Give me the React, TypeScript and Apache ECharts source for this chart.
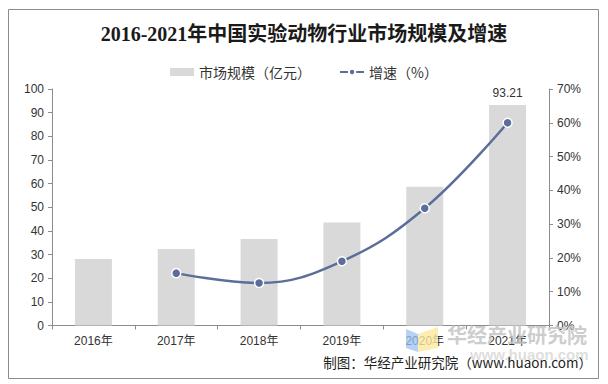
import React, { useEffect, useRef } from "react";
import * as echarts from "echarts";

const categories = ["2016年", "2017年", "2018年", "2019年", "2020年", "2021年"];
const marketSize = [28.1, 32.3, 36.6, 43.5, 58.7, 93.21];
const growth: (number | null)[] = [null, 15.5, 12.6, 19.0, 34.7, 60.0];
const leftTicks = { min: 0, max: 100, interval: 10 };
const rightTicks = { min: 0, max: 70, interval: 10 };

const FONT = '"Liberation Sans", Arial, "Noto Sans CJK SC", sans-serif';

export default function App() {
  const ref = useRef<HTMLDivElement>(null);
  useEffect(() => {
    if (!ref.current) return;
    const chart = echarts.init(ref.current, null, { renderer: "svg" });
    const lastIdx = marketSize.length - 1;
    chart.setOption({
      animation: false,
      backgroundColor: "#ffffff",
      title: {
        text: "2016-2021年中国实验动物行业市场规模及增速",
        left: "center",
        top: 19,
        textStyle: {
          fontFamily: '"Liberation Serif", "Noto Sans CJK SC", serif',
          fontSize: 20,
          fontWeight: "bold",
          color: "#1a1a1a",
        },
      },
      legend: {
        top: 60,
        left: "center",
        itemGap: 28,
        textStyle: { fontFamily: '"Noto Sans CJK SC", sans-serif', fontSize: 14, color: "#333" },
        data: [
          { name: "市场规模（亿元）", icon: "rect", itemStyle: { color: "#d9d9d9" } },
          { name: "增速（%）" },
        ],
        itemWidth: 24,
        itemHeight: 8,
      },
      grid: { left: 52, right: 59, top: 89, bottom: 58.5, containLabel: false },
      xAxis: {
        type: "category",
        data: categories,
        axisLine: { lineStyle: { color: "#8c8c8c" } },
        axisTick: { show: true, length: 4, lineStyle: { color: "#8c8c8c" } },
        axisLabel: { color: "#333", fontFamily: FONT, fontSize: 12, margin: 9 },
      },
      yAxis: [
        {
          type: "value",
          ...leftTicks,
          axisLine: { show: true, lineStyle: { color: "#8c8c8c" } },
          axisTick: { show: true, length: 4, lineStyle: { color: "#8c8c8c" } },
          splitLine: { show: false },
          axisLabel: { color: "#333", fontFamily: FONT, fontSize: 12, margin: 8 },
        },
        {
          type: "value",
          ...rightTicks,
          position: "right",
          axisLine: { show: true, lineStyle: { color: "#8c8c8c" } },
          axisTick: { show: true, length: 4, lineStyle: { color: "#8c8c8c" } },
          splitLine: { show: false },
          axisLabel: { color: "#333", fontFamily: FONT, fontSize: 12, margin: 8, formatter: "{value}%" },
        },
      ],
      series: [
        {
          name: "市场规模（亿元）",
          type: "bar",
          barWidth: 37,
          itemStyle: { color: "#d9d9d9" },
          data: marketSize.map((v, i) =>
            i === lastIdx
              ? {
                  value: v,
                  label: {
                    show: true,
                    position: "top",
                    distance: 6,
                    color: "#333",
                    fontFamily: FONT,
                    fontSize: 12,
                  },
                }
              : v
          ),
        },
        {
          name: "增速（%）",
          type: "line",
          yAxisIndex: 1,
          smooth: 0.4,
          connectNulls: false,
          symbol: "circle",
          symbolSize: 9,
          lineStyle: { color: "#5b6e99", width: 2.5 },
          itemStyle: { color: "#5b6e99", borderColor: "#ffffff", borderWidth: 1.5 },
          data: growth,
        },
      ],
      graphic: [
        {
          type: "rect",
          shape: { x: 8.5, y: 9.5, width: 590, height: 369 },
          style: { fill: "none", stroke: "#8c8c8c", lineWidth: 1 },
          silent: true,
          z: 100,
        },
        {
          type: "polygon",
          shape: { points: [[406, 329], [418, 334], [418, 352], [406, 348]] },
          style: { fill: "#9cc2f2", opacity: 0.75 },
          z: 50,
        },
        {
          type: "polygon",
          shape: { points: [[418, 334], [438, 327], [438, 348], [418, 352]] },
          style: { fill: "#fbe8a0", opacity: 0.8 },
          z: 50,
        },
        {
          type: "text",
          x: 447,
          y: 334,
          style: {
            text: "华经产业研究院",
            fontFamily: '"Noto Sans CJK SC", sans-serif',
            fontSize: 20,
            fontWeight: "bold",
            fill: "#c4c4c4",
            opacity: 0.85,
            verticalAlign: "middle",
          },
          z: 50,
        },
        {
          type: "text",
          x: 470,
          y: 354,
          style: {
            text: "www.huaon.com",
            fontFamily: FONT,
            fontSize: 15,
            fontWeight: "bold",
            fill: "#cfcfcf",
            opacity: 0.7,
            verticalAlign: "middle",
          },
          z: 50,
        },
        {
          type: "text",
          x: 592,
          y: 362,
          style: {
            text: "制图：华经产业研究院（www.huaon.com）",
            fontFamily: '"Noto Sans CJK SC", sans-serif',
            fontSize: 13.5,
            fill: "#222",
            align: "right",
            verticalAlign: "middle",
          },
          z: 60,
        },
      ],
    });
    return () => chart.dispose();
  }, []);
  return (
    <div
      ref={ref}
      style={{ position: "absolute", left: 0, top: 0, width: 608, height: 384 }}
    />
  );
}
